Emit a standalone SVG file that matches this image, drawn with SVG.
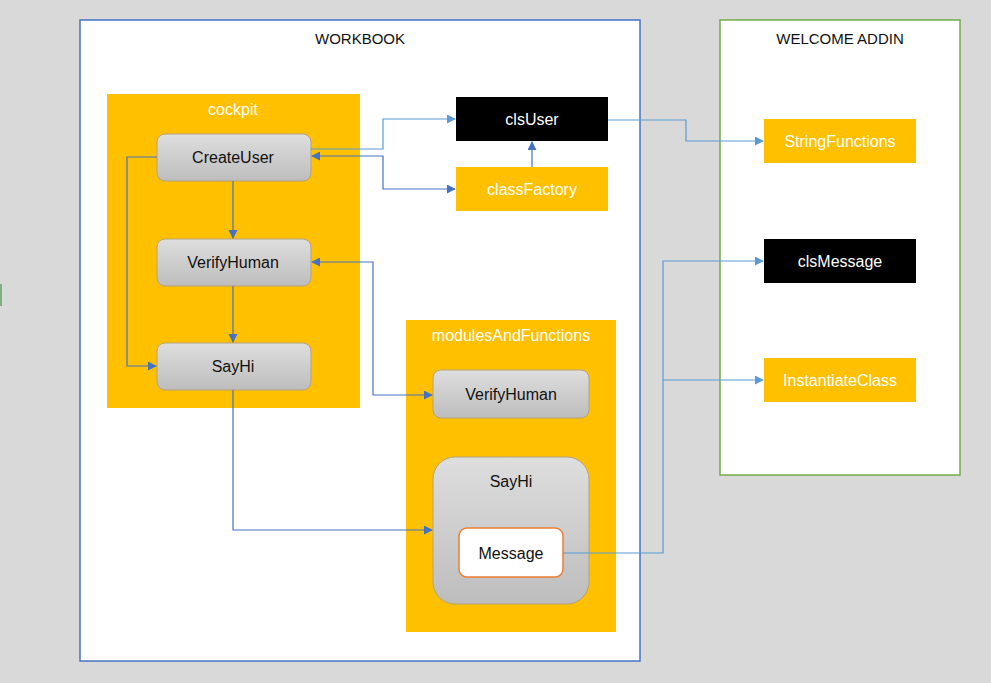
<svg xmlns="http://www.w3.org/2000/svg" width="991" height="683" viewBox="0 0 991 683">
<defs>
<linearGradient id="g" x1="0" y1="0" x2="0" y2="1">
<stop offset="0" stop-color="#dedede"/>
<stop offset="1" stop-color="#bdbdbd"/>
</linearGradient>
<marker id="a1" viewBox="0 0 10 10" refX="9" refY="5" markerWidth="9" markerHeight="9" markerUnits="userSpaceOnUse" orient="auto-start-reverse">
<path d="M0,0 L10,5 L0,10 z" fill="#5b9bd5"/>
</marker>
<marker id="a2" viewBox="0 0 10 10" refX="9" refY="5" markerWidth="9" markerHeight="9" markerUnits="userSpaceOnUse" orient="auto-start-reverse">
<path d="M0,0 L10,5 L0,10 z" fill="#4472c4"/>
</marker>
</defs>
<style>
text{font-family:"Liberation Sans",Arial,sans-serif;font-size:16px;text-anchor:middle;dominant-baseline:central}
.w{fill:#ffffff}
.k{fill:#111111}
.t{font-size:15px}
.btn{fill:url(#g);stroke:#b3a27c;stroke-width:1}
.yel{fill:#ffc000}
.blk{fill:#000000}
.c1{fill:none;stroke:#5b9bd5;stroke-width:1.2;marker-end:url(#a1)}
.c2{fill:none;stroke:#4472c4;stroke-width:1.2;marker-end:url(#a2)}
</style>
<rect x="0" y="0" width="991" height="683" fill="#d9d9d9"/>
<line x1="1" y1="284" x2="1" y2="306" stroke="#5fa060" stroke-width="1.5"/>

<g id="workbook">
<rect x="80" y="20" width="560" height="641" fill="#ffffff" stroke="#4472c4" stroke-width="1.5"/>
<text x="360" y="38" class="k t">WORKBOOK</text>
</g>
<g id="welcome-addin">
<rect x="720" y="20" width="240" height="455" fill="#ffffff" stroke="#70ad47" stroke-width="1.5"/>
<text x="840" y="38" class="k t">WELCOME ADDIN</text>
</g>

<g id="cockpit">
<rect x="107" y="94" width="253" height="314" class="yel"/>
<text x="233" y="109" class="w">cockpit</text>
</g>
<g id="createuser">
<rect x="157" y="134" width="154" height="47" rx="8" class="btn"/>
<text x="233" y="157" class="k">CreateUser</text>
</g>
<g id="verifyhuman1">
<rect x="157" y="239" width="154" height="47" rx="8" class="btn"/>
<text x="233" y="262" class="k">VerifyHuman</text>
</g>
<g id="sayhi1">
<rect x="157" y="343" width="154" height="47" rx="8" class="btn"/>
<text x="233" y="366" class="k">SayHi</text>
</g>

<g id="clsuser">
<rect x="456" y="97" width="152" height="44" class="blk"/>
<text x="532" y="119" class="w">clsUser</text>
</g>
<g id="classfactory">
<rect x="456" y="167" width="152" height="44" class="yel"/>
<text x="532" y="189" class="w">classFactory</text>
</g>

<g id="modulesandfunctions">
<rect x="406" y="320" width="210" height="312" class="yel"/>
<text x="511" y="335" class="w">modulesAndFunctions</text>
</g>
<g id="verifyhuman2">
<rect x="433" y="370" width="156" height="48" rx="8" class="btn"/>
<text x="511" y="394" class="k">VerifyHuman</text>
</g>
<g id="sayhi2">
<rect x="433" y="457" width="156" height="147" rx="22" class="btn"/>
<text x="511" y="481" class="k">SayHi</text>
</g>
<g id="message">
<rect x="459" y="528" width="104" height="49" rx="8" fill="#ffffff" stroke="#ed7d31" stroke-width="1.5"/>
<text x="511" y="553" class="k">Message</text>
</g>

<g id="stringfunctions">
<rect x="764" y="119" width="152" height="44" class="yel"/>
<text x="840" y="141" class="w">StringFunctions</text>
</g>
<g id="clsmessage">
<rect x="764" y="239" width="152" height="44" class="blk"/>
<text x="840" y="261" class="w">clsMessage</text>
</g>
<g id="instantiateclass">
<rect x="764" y="358" width="152" height="44" class="yel"/>
<text x="840" y="380" class="w">InstantiateClass</text>
</g>

<g id="connectors">
<path d="M311,149 H383 V119 H455" class="c1"/>
<path d="M312,156 H383 V189 H455" class="c2" style="marker-start:url(#a2)"/>
<path d="M532,167 V142" class="c2"/>
<path d="M608,120 H686 V141 H763" class="c1"/>
<path d="M233,181 V238" class="c2"/>
<path d="M233,286 V342" class="c2"/>
<path d="M157,157 H127 V366 H156" class="c2"/>
<path d="M312,262 H373 V395 H432" class="c2" style="marker-start:url(#a2)"/>
<path d="M233,390 V530 H432" class="c2"/>
<path d="M563,553 H663 V261 H763" class="c1"/>
<path d="M663,380 H763" class="c1"/>
</g>
</svg>
